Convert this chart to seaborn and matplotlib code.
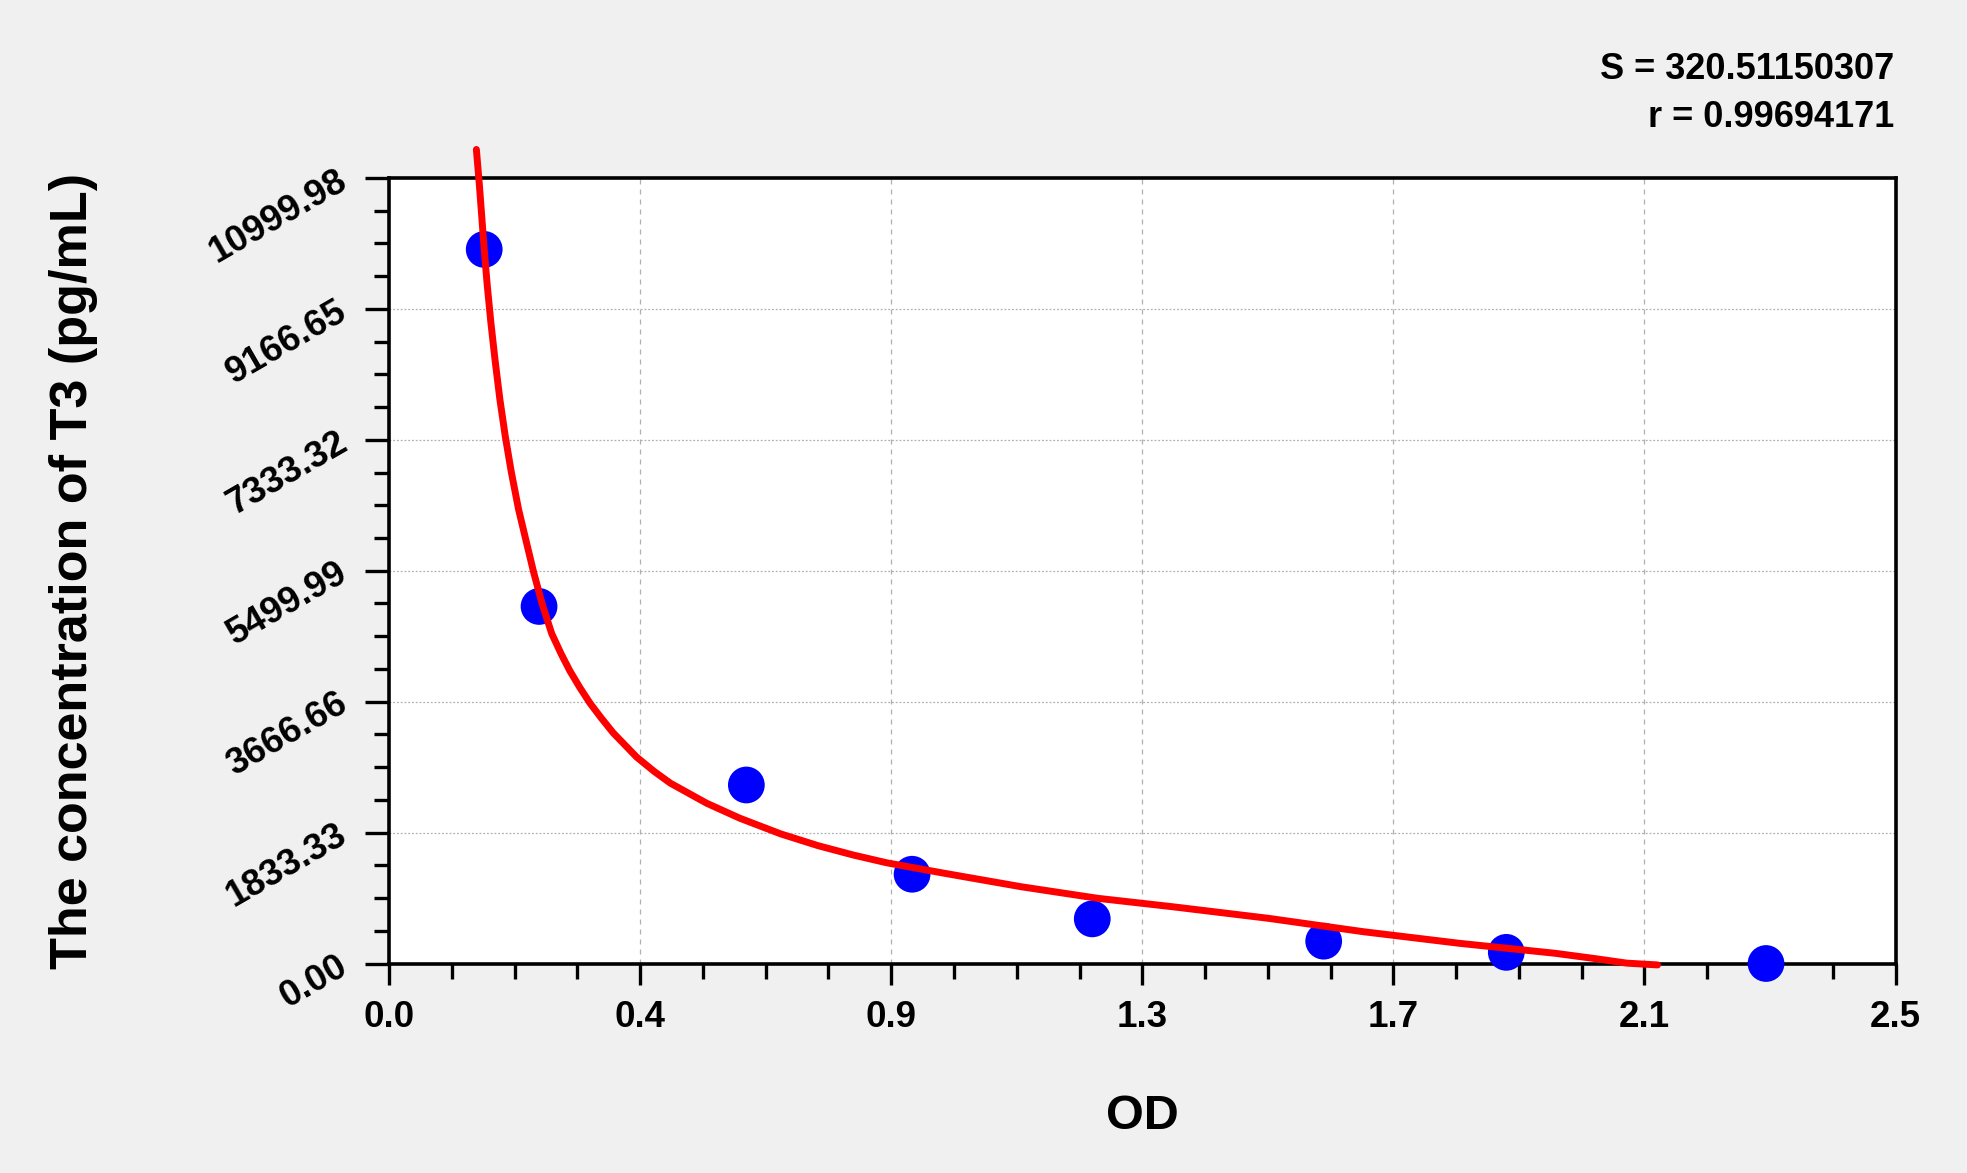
import numpy as np
import matplotlib
matplotlib.use("Agg")
import matplotlib.pyplot as plt
from matplotlib.ticker import AutoMinorLocator
import seaborn as sns

# standard points (OD vs concentration)
od = [0.158, 0.249, 0.593, 0.868, 1.167, 1.551, 1.854, 2.285]
conc = [10000, 5000, 2500, 1250, 625, 312.5, 156.25, 0]

# fitted curve
curve_x = [0.145, 0.150, 0.154, 0.158, 0.163, 0.169, 0.176, 0.184, 0.193, 0.203,
           0.215, 0.228, 0.240, 0.254, 0.270, 0.286, 0.300, 0.317, 0.334, 0.352,
           0.372, 0.411, 0.440, 0.467, 0.527, 0.582, 0.650, 0.712, 0.770, 0.826,
           0.922, 1.049, 1.176, 1.300, 1.459, 1.617, 1.776, 1.935, 2.000, 2.054, 2.105]
curve_y = [11400, 10900, 10450, 10000, 9500, 8980, 8450, 7900, 7380, 6880,
           6360, 5900, 5480, 5040, 4620, 4330, 4100, 3860, 3640, 3440,
           3230, 2890, 2690, 2525, 2245, 2035, 1815, 1650, 1520, 1410,
           1263, 1075, 913, 795, 633, 445, 283, 143, 70, 5, -20]

x_ticks = np.linspace(0, 2.5, 7)
x_labels = ["0.0", "0.4", "0.9", "1.3", "1.7", "2.1", "2.5"]
y_ticks = np.linspace(0, 10999.98, 7)
y_labels = ["0.00", "1833.33", "3666.66", "5499.99", "7333.32", "9166.65", "10999.98"]

sns.set_style("white")
plt.rcParams["font.family"] = ["Liberation Sans", "DejaVu Sans"]
plt.rcParams["font.weight"] = "bold"
plt.rcParams.update({
    "text.color": "black", "axes.labelcolor": "black",
    "xtick.color": "black", "ytick.color": "black",
    "xtick.labelsize": 26.5, "ytick.labelsize": 26.5,
})

fig = plt.figure(figsize=(19.67, 11.73), dpi=100, facecolor="#f0f0f0")
ax = fig.add_axes([0.19776, 0.17860, 0.76594, 0.66965])
ax.set_facecolor("white")

sns.scatterplot(x=od, y=conc, s=700, color="#0000ff", edgecolor="none",
                zorder=3, clip_on=False, ax=ax)
sns.lineplot(x=curve_x, y=curve_y, color="#ff0000", linewidth=5, zorder=4,
             estimator=None, sort=False, ax=ax)
ax.lines[-1].set_clip_on(False)
ax.lines[-1].set_linewidth(5)
ax.lines[-1].set_solid_capstyle("round")
ax.lines[-1].set_solid_joinstyle("round")

ax.set_xlim(0, 2.5)
ax.set_ylim(0, 10999.98)
ax.xaxis.set_minor_locator(AutoMinorLocator(4))
ax.yaxis.set_minor_locator(AutoMinorLocator(4))

ax.tick_params(which="both", direction="out", bottom=True, left=True,
               top=False, right=False, color="black", width=2.4)
ax.tick_params(axis="x", which="major", length=15, pad=11)
ax.tick_params(axis="y", which="major", length=17, pad=15)
ax.tick_params(which="minor", length=10.5)

ax.set_xticks(x_ticks)
ax.set_xticklabels(x_labels, fontsize=26.5, fontweight="bold")
ax.set_yticks(y_ticks)
ax.set_yticklabels(y_labels, fontsize=26.5, fontweight="bold", rotation=30,
                   ha="right", va="center", rotation_mode="anchor")

ax.set_axisbelow(True)
ax.xaxis.grid(True, which="major", color="#b0b0b0", linestyle=(0, (4, 4)), linewidth=0.9)
ax.yaxis.grid(True, which="major", color="#b0b0b0", linestyle=(0, (1.5, 1.5)), linewidth=0.9)

for sp in ax.spines.values():
    sp.set_visible(True)
    sp.set_color("black")
    sp.set_linewidth(2.6)

ax.set_xlabel("OD", fontsize=35, fontweight="bold")
ax.xaxis.set_label_coords(0.5, -0.166)
ax.set_ylabel("The concentration of T3 (pg/mL)", fontsize=37.5, fontweight="bold")
ax.yaxis.set_label_coords(-0.193, 0.5)

fig.text(0.9629, 0.9327, "S = 320.51150307", fontsize=26, fontweight="bold",
         ha="right", va="baseline")
fig.text(0.9629, 0.8917, "r = 0.99694171", fontsize=26, fontweight="bold",
         ha="right", va="baseline")

fig.savefig("out.png", dpi=100, facecolor=fig.get_facecolor())
